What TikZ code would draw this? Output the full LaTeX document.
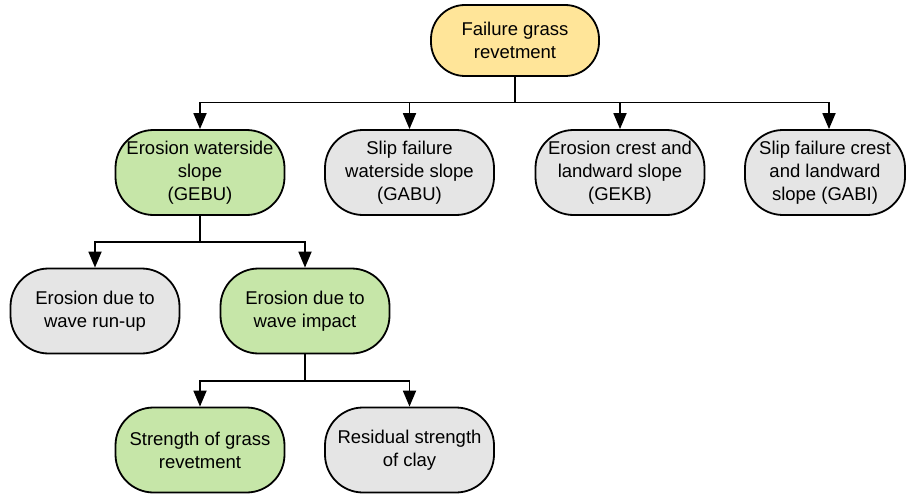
\documentclass[tikz,border=0pt]{standalone}
\usepackage{fontspec}
\setmainfont{Liberation Sans}
\usetikzlibrary{arrows.meta}
\definecolor{yel}{HTML}{FFE599}
\definecolor{grn}{HTML}{C6E6A8}
\definecolor{gry}{HTML}{E5E5E5}
\tikzset{
  box/.style={draw=black, line width=1.8pt, rounded corners=38pt, minimum width=169pt, minimum height=85pt, align=center, inner sep=0pt, font=\fontsize{18.5}{23}\selectfont},
  gbox/.style={box, fill=grn},
  ybox/.style={box, fill=yel},
  ebox/.style={box, fill=gry},
  conn/.style={line width=1.8pt, -{Triangle[length=16pt,width=13pt]}},
}
\begin{document}
\begin{tikzpicture}[x=1pt,y=-1pt]
\useasboundingbox (0,0) rectangle (906,495);
\node[ybox, minimum width=168pt, minimum height=71pt, rounded corners=34pt] (top) at (515,40.5) {Failure grass\\revetment};
\node[gbox] (gebu) at (200,172.5) {Erosion waterside\\slope\\(GEBU)};
\node[ebox] (gabu) at (409.5,172.5) {Slip failure\\waterside slope\\(GABU)};
\node[ebox] (gekb) at (620,172.5) {Erosion crest and\\landward slope\\(GEKB)};
\node[ebox, minimum width=160pt] (gabi) at (825,172.5) {Slip failure crest\\and landward\\slope (GABI)};
\node[ebox] (runup) at (95,311) {Erosion due to\\wave run-up};
\node[gbox] (impact) at (305,311) {Erosion due to\\wave impact};
\node[gbox] (grass) at (200,450) {Strength of grass\\revetment};
\node[ebox] (clay) at (409.5,450) {Residual strength\\of clay};
\coordinate (b1) at (0,102.5);
\coordinate (b2) at (0,242);
\coordinate (b3) at (0,381);
\foreach \t in {gebu,gabu,gekb}{
  \draw[conn] (top.south) -- (top.south |- b1) -| (\t.north);
}
\draw[conn] (top.south) -- (top.south |- b1) -| ([xshift=4pt]gabi.north);
\foreach \t in {runup,impact}{
  \draw[conn] (gebu.south) -- (gebu.south |- b2) -| (\t.north);
}
\foreach \t in {grass,clay}{
  \draw[conn] (impact.south) -- (impact.south |- b3) -| (\t.north);
}
\end{tikzpicture}
\end{document}
